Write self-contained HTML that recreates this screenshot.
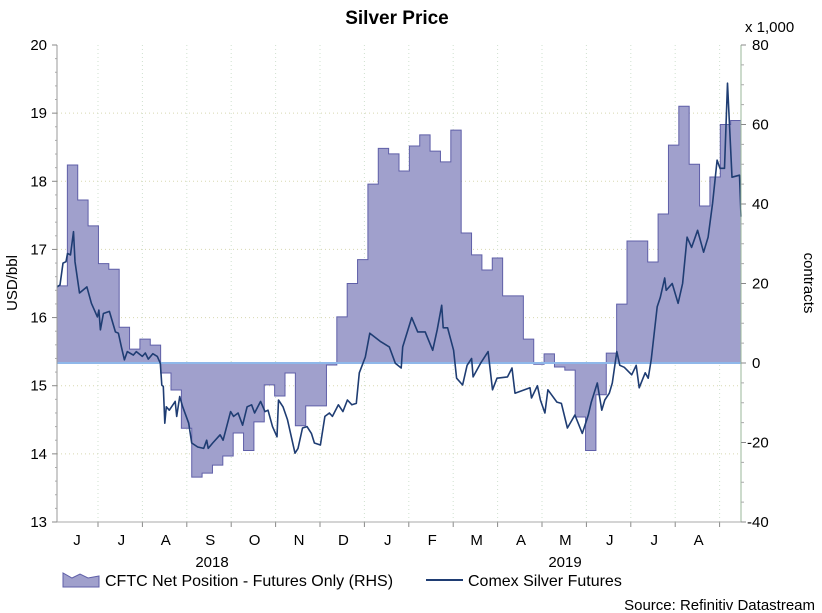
<!DOCTYPE html>
<html><head><meta charset="utf-8"><style>
html,body{margin:0;padding:0;background:#fff;}
svg{display:block;font-family:"Liberation Sans",Arial,sans-serif;}
</style></head><body>
<svg id="chart" width="822" height="613" viewBox="0 0 822 613" xmlns="http://www.w3.org/2000/svg">
<text x="397" y="24" text-anchor="middle" font-size="19" font-weight="bold">Silver Price</text>
<g id="grid"></g>
<g id="area"></g>
<g id="line"></g>
<g id="axes"></g>
<text transform="translate(17,283) rotate(-90)" text-anchor="middle" font-size="15">USD/bbl</text>
<text transform="translate(804,283) rotate(90)" text-anchor="middle" font-size="15">contracts</text>
<text x="745" y="32" font-size="15">x 1,000</text>
<g>
<path d="M63,587 L63,573 L72,578 L80,574 L88,578 L99,576 L99,587 Z" fill="#a0a0cc" stroke="#5f5fa8" stroke-width="1"/>
<text x="105" y="586" font-size="16">CFTC Net Position - Futures Only (RHS)</text>
<line x1="426" y1="580" x2="463" y2="580" stroke="#1f3d73" stroke-width="2"/>
<text x="468" y="586" font-size="16">Comex Silver Futures</text>
</g>
<text x="815" y="610" text-anchor="end" font-size="15">Source: Refinitiv Datastream</text>
</svg>
<script>
const cftcValues=[19.4,49.8,41,34.5,25,23.6,9,3.5,6,4.5,-2.5,-6.8,-16.4,-28.7,-27.7,-25.7,-23.4,-17.6,-22,-14.8,-5.5,-8.3,-2.5,-15.8,-10.8,-10.8,-0.5,11.6,20,26,45,54,52.6,48.3,54.6,57.4,53.3,50.6,58.6,32.7,27.2,23.4,26.4,16.9,16.9,6,-0.3,2.3,-1,-1.8,-13.6,-22,-8,2.5,14.8,30.7,30.7,25.4,37.5,54.8,64.6,50,39.5,46.8,60,61];
const priceDays=[0,2,4,6,7,9,11,12,15,20,23,27,28,29,31,35,39,41,43,45,47,51,53,57,59,61,64,67,69,70,71,72,73,75,79,80,82,84,88,90,94,98,100,101,104,109,111,116,118,121,124,127,130,132,136,139,141,144,147,148,151,154,159,161,164,167,170,172,176,179,182,184,188,191,194,197,200,202,206,209,216,222,226,230,231,237,241,246,251,254,257,258,261,265,267,271,274,277,278,283,288,291,294,301,304,306,316,317,321,323,326,328,334,337,341,346,351,355,357,361,364,366,369,371,374,376,379,384,387,389,393,395,397,401,403,406,407,411,415,418,421,424,428,432,435,438,441,443,446,448,451,456,457];
const priceValues=[16.45,16.48,16.8,16.82,16.94,16.92,17.26,16.82,16.36,16.45,16.21,16.01,16.11,15.82,16.06,16.09,15.79,15.77,15.57,15.38,15.5,15.45,15.5,15.43,15.48,15.39,15.47,15.43,15.33,15.01,14.99,14.45,14.69,14.64,14.77,14.55,14.84,14.69,14.45,14.16,14.1,14.08,14.2,14.08,14.16,14.28,14.2,14.62,14.55,14.6,14.42,14.69,14.72,14.6,14.77,14.62,14.64,14.4,14.25,14.79,14.69,14.5,14.01,14.08,14.38,14.4,14.3,14.16,14.13,14.55,14.6,14.55,14.72,14.62,14.79,14.72,14.74,15.19,15.42,15.77,15.65,15.57,15.33,15.26,15.57,16.0,15.79,15.79,15.52,15.82,16.18,15.85,15.85,15.52,15.11,15.01,15.3,15.4,15.13,15.33,15.5,14.94,15.11,15.13,15.26,14.89,14.97,14.82,15.0,14.79,14.6,14.94,14.76,14.74,14.38,14.57,14.3,14.57,14.76,15.04,14.64,14.79,14.89,15.04,15.5,15.3,15.27,15.16,15.3,14.97,15.19,15.11,15.38,16.16,16.29,16.58,16.4,16.5,16.21,16.5,17.18,17.03,17.28,16.96,17.18,17.68,18.31,18.19,18.19,19.44,18.06,18.09,17.48];
const leftTicks=[13,14,15,16,17,18,19,20];
const rightTicks=[-40,-20,0,20,40,60,80];
const monthLabels=["J","J","A","S","O","N","D","J","F","M","A","M","J","J","A"];
const yearLabels=["2018","2019"];

const X0=57,X1=741,Y0=45,Y1=522,TOTAL_DAYS=457,WEEKS=66;
const xDay=d=>X0+d*(X1-X0)/TOTAL_DAYS;
const xWeek=i=>X0+i*(X1-X0)/WEEKS;
const yL=v=>Y1-(v-13)*(Y1-Y0)/7;
const yR=v=>Y1-(v+40)*(Y1-Y0)/120;
const NS="http://www.w3.org/2000/svg";
function mk(tag,attrs,parent){const e=document.createElementNS(NS,tag);for(const k in attrs)e.setAttribute(k,attrs[k]);parent.appendChild(e);return e;}
const grid=document.getElementById('grid'),area=document.getElementById('area'),line=document.getElementById('line'),axes=document.getElementById('axes');

leftTicks.forEach(t=>{if(t===13||t===20)return;
 const g=mk('line',{x1:X0,x2:X1,y1:yL(t),y2:yL(t),stroke:'#d8d8b0','stroke-dasharray':'1,3','stroke-width':1},grid);
 
 });
const mStep=44.4, mStart=98;
for(let i=0;i<15;i++){
 const bx=mStart+i*mStep;
 if(bx<X1){const g=mk('line',{x1:bx,x2:bx,y1:Y0,y2:Y1,stroke:'#cfe0cf','stroke-dasharray':'1,3','stroke-width':1},grid);
 
 
 mk('line',{x1:bx,x2:bx,y1:Y1,y2:Y1+5,stroke:'#888'},axes);}
 const t=mk('text',{x:mStart-21+i*mStep,y:545,'text-anchor':'middle','font-size':15},axes);
 t.textContent=monthLabels[i];
 
 
}
yearLabels.forEach((y,i)=>{const t=mk('text',{x:i===0?212:565,y:567,'text-anchor':'middle','font-size':15},axes);t.textContent=y;
 
 });

let d='M'+xWeek(0)+','+yR(0);
cftcValues.forEach((v,i)=>{d+=' L'+xWeek(i)+','+yR(v)+' L'+xWeek(i+1)+','+yR(v);});
d+=' L'+xWeek(cftcValues.length)+','+yR(0)+' Z';
const ap=mk('path',{d:d,fill:'#a0a0cc',stroke:'#5f5fa8','stroke-width':1},area);


const zl=mk('line',{x1:X0,x2:X1,y1:yR(0),y2:yR(0),stroke:'#8fb8ea','stroke-width':2},area);



const pts=priceValues.map((v,i)=>xDay(priceDays[i]).toFixed(1)+','+yL(v).toFixed(1)).join(' ');
const pl=mk('polyline',{points:pts,fill:'none',stroke:'#1f3d73','stroke-width':1.6,'stroke-linejoin':'round'},line);



mk('line',{x1:X0,x2:X0,y1:Y0,y2:Y1,stroke:'#999'},axes);
mk('line',{x1:X1,x2:X1,y1:Y0,y2:Y1,stroke:'#9ab79a'},axes);
mk('line',{x1:X0,x2:X1,y1:Y1,y2:Y1,stroke:'#aaa'},axes);
leftTicks.forEach(t=>{
 mk('line',{x1:X0-5,x2:X0,y1:yL(t),y2:yL(t),stroke:'#888'},axes);
 for(let k=1;k<5;k++){if(t<20)mk('line',{x1:X0-2,x2:X0,y1:yL(t+k/5),y2:yL(t+k/5),stroke:'#aaa'},axes);}
 const tx=mk('text',{x:X0-10,y:yL(t)+5,'text-anchor':'end','font-size':15},axes);tx.textContent=t;
 
 });
rightTicks.forEach(t=>{
 mk('line',{x1:X1,x2:X1+5,y1:yR(t),y2:yR(t),stroke:'#888'},axes);
 for(let k=1;k<4;k++){if(t<80)mk('line',{x1:X1,x2:X1+3,y1:yR(t+k*5),y2:yR(t+k*5),stroke:'#aaa'},axes);}
 const tx=mk('text',{x:t<0?747:752,y:yR(t)+5,'font-size':15},axes);tx.textContent=t;
 
 });
</script>
</body></html>
